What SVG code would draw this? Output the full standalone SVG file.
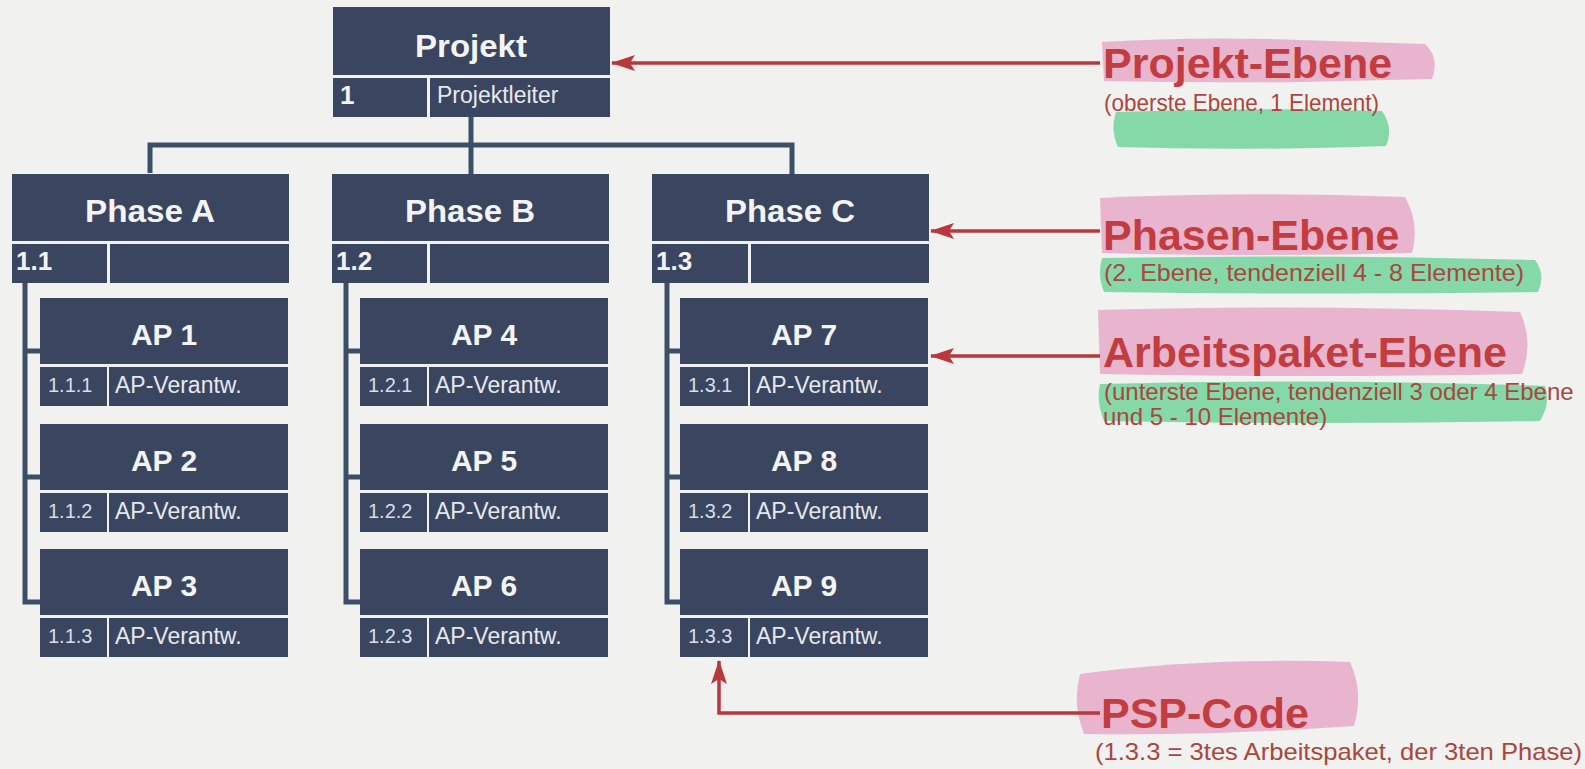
<svg xmlns="http://www.w3.org/2000/svg" width="1585" height="769" viewBox="0 0 1585 769">
<defs>
<style>
.bx{fill:#3a4560}
.hd{font-family:"Liberation Sans",Arial,sans-serif;font-weight:bold;fill:#f4f4f4;text-anchor:middle}
.ph{font-size:31px}
.ap{font-size:30px}
.pc{font-family:"Liberation Sans",Arial,sans-serif;font-weight:bold;fill:#f4f4f4;font-size:26px}
.sc{font-family:"Liberation Sans",Arial,sans-serif;fill:#d9dde6;font-size:20px}
.rs{font-family:"Liberation Sans",Arial,sans-serif;fill:#e6e8ee;font-size:23px}
.cn{fill:none;stroke:#3b5068;stroke-width:5}
.ar{fill:none;stroke:#b8383e;stroke-width:3.5}
.tt{font-family:"Liberation Sans",Arial,sans-serif;font-weight:bold;font-size:43px;fill:#c23d3f}
.st{font-family:"Liberation Sans",Arial,sans-serif;font-size:24px;fill:#a9463e}
.pk{fill:#e69cc0;opacity:0.72}
.gr{fill:#5ccf8a;opacity:0.72}
</style>
<marker id="ah" viewBox="0 0 24 16" refX="23" refY="8" markerWidth="24" markerHeight="16" markerUnits="userSpaceOnUse" orient="auto">
<path d="M0,0 L24,8 L0,16 L5,8 z" fill="#b8383e"/>
</marker>
</defs>
<rect x="0" y="0" width="1585" height="769" fill="#f1f1ef"/>

<g id="connectors">
<path class="cn" d="M150,173 V145 H792 V175"/>
<path class="cn" d="M471,117 V174"/>
<path class="cn" d="M25,283 V602 H40 M25,351 H40 M25,477 H40"/>
<path class="cn" d="M346,283 V602 H360 M346,351 H360 M346,477 H360"/>
<path class="cn" d="M667,283 V602 H680 M667,351 H680 M667,477 H680"/>
</g>

<g id="highlights">
<path class="pk" d="M1102,42 Q1200,36 1300,40 L1425,44 Q1440,58 1432,79 L1300,82 Q1200,83 1104,81 Z"/>
<path class="gr" d="M1116,112 Q1250,107 1382,111 Q1394,128 1386,146 Q1250,151 1118,147 Q1110,130 1116,112 Z"/>
<path class="pk" d="M1100,198 Q1250,191 1405,197 Q1420,224 1412,253 Q1250,257 1102,253 Z"/>
<path class="gr" d="M1102,258 Q1320,254 1535,260 Q1546,274 1538,292 Q1320,295 1104,292 Q1097,275 1102,258 Z"/>
<path class="pk" d="M1098,310 Q1300,304 1520,312 Q1534,342 1522,374 Q1300,378 1100,374 Z"/>
<path class="gr" d="M1100,384 Q1320,378 1545,386 Q1551,403 1540,421 Q1320,425 1104,421 Q1096,402 1100,384 Z"/>
<path class="pk" d="M1080,674 Q1200,657 1350,662 Q1364,692 1354,726 Q1210,736 1084,734 Q1072,704 1080,674 Z"/>
</g>

<g id="projekt">
<rect class="bx" x="333" y="7" width="277" height="68"/>
<rect class="bx" x="333" y="78" width="94" height="39"/>
<rect class="bx" x="430" y="78" width="180" height="39"/>
<text class="hd ph" x="471" y="57" textLength="112" lengthAdjust="spacingAndGlyphs">Projekt</text>
<text class="pc" x="340" y="104">1</text>
<text class="rs" x="437" y="103">Projektleiter</text>
</g>

<g id="phaseA">
<rect class="bx" x="12" y="174" width="277" height="67"/>
<rect class="bx" x="12" y="244" width="95" height="39"/>
<rect class="bx" x="110" y="244" width="179" height="39"/>
<text class="hd ph" x="150" y="222" textLength="130" lengthAdjust="spacingAndGlyphs">Phase A</text>
<text class="pc" x="16" y="270">1.1</text>
</g>
<g id="phaseB">
<rect class="bx" x="332" y="174" width="277" height="67"/>
<rect class="bx" x="332" y="244" width="95" height="39"/>
<rect class="bx" x="430" y="244" width="179" height="39"/>
<text class="hd ph" x="470" y="222" textLength="130" lengthAdjust="spacingAndGlyphs">Phase B</text>
<text class="pc" x="336" y="270">1.2</text>
</g>
<g id="phaseC">
<rect class="bx" x="652" y="174" width="277" height="67"/>
<rect class="bx" x="652" y="244" width="96" height="39"/>
<rect class="bx" x="751" y="244" width="178" height="39"/>
<text class="hd ph" x="790" y="222" textLength="130" lengthAdjust="spacingAndGlyphs">Phase C</text>
<text class="pc" x="656" y="270">1.3</text>
</g>

<g id="ap1">
<rect class="bx" x="40" y="298" width="248" height="66"/>
<rect class="bx" x="40" y="367" width="67" height="39"/>
<rect class="bx" x="109" y="367" width="179" height="39"/>
<text class="hd ap" x="164" y="345">AP 1</text>
<text class="sc" x="48" y="392">1.1.1</text>
<text class="rs" x="115" y="393">AP-Verantw.</text>
</g>
<g id="ap2">
<rect class="bx" x="40" y="424" width="248" height="66"/>
<rect class="bx" x="40" y="493" width="67" height="39"/>
<rect class="bx" x="109" y="493" width="179" height="39"/>
<text class="hd ap" x="164" y="471">AP 2</text>
<text class="sc" x="48" y="518">1.1.2</text>
<text class="rs" x="115" y="519">AP-Verantw.</text>
</g>
<g id="ap3">
<rect class="bx" x="40" y="549" width="248" height="66"/>
<rect class="bx" x="40" y="618" width="67" height="39"/>
<rect class="bx" x="109" y="618" width="179" height="39"/>
<text class="hd ap" x="164" y="596">AP 3</text>
<text class="sc" x="48" y="643">1.1.3</text>
<text class="rs" x="115" y="644">AP-Verantw.</text>
</g>

<g id="ap4">
<rect class="bx" x="360" y="298" width="248" height="66"/>
<rect class="bx" x="360" y="367" width="67" height="39"/>
<rect class="bx" x="429" y="367" width="179" height="39"/>
<text class="hd ap" x="484" y="345">AP 4</text>
<text class="sc" x="368" y="392">1.2.1</text>
<text class="rs" x="435" y="393">AP-Verantw.</text>
</g>
<g id="ap5">
<rect class="bx" x="360" y="424" width="248" height="66"/>
<rect class="bx" x="360" y="493" width="67" height="39"/>
<rect class="bx" x="429" y="493" width="179" height="39"/>
<text class="hd ap" x="484" y="471">AP 5</text>
<text class="sc" x="368" y="518">1.2.2</text>
<text class="rs" x="435" y="519">AP-Verantw.</text>
</g>
<g id="ap6">
<rect class="bx" x="360" y="549" width="248" height="66"/>
<rect class="bx" x="360" y="618" width="67" height="39"/>
<rect class="bx" x="429" y="618" width="179" height="39"/>
<text class="hd ap" x="484" y="596">AP 6</text>
<text class="sc" x="368" y="643">1.2.3</text>
<text class="rs" x="435" y="644">AP-Verantw.</text>
</g>

<g id="ap7">
<rect class="bx" x="680" y="298" width="248" height="66"/>
<rect class="bx" x="680" y="367" width="68" height="39"/>
<rect class="bx" x="750" y="367" width="178" height="39"/>
<text class="hd ap" x="804" y="345">AP 7</text>
<text class="sc" x="688" y="392">1.3.1</text>
<text class="rs" x="756" y="393">AP-Verantw.</text>
</g>
<g id="ap8">
<rect class="bx" x="680" y="424" width="248" height="66"/>
<rect class="bx" x="680" y="493" width="68" height="39"/>
<rect class="bx" x="750" y="493" width="178" height="39"/>
<text class="hd ap" x="804" y="471">AP 8</text>
<text class="sc" x="688" y="518">1.3.2</text>
<text class="rs" x="756" y="519">AP-Verantw.</text>
</g>
<g id="ap9">
<rect class="bx" x="680" y="549" width="248" height="66"/>
<rect class="bx" x="680" y="618" width="68" height="39"/>
<rect class="bx" x="750" y="618" width="178" height="39"/>
<text class="hd ap" x="804" y="596">AP 9</text>
<text class="sc" x="688" y="643">1.3.3</text>
<text class="rs" x="756" y="644">AP-Verantw.</text>
</g>

<g id="annotation-arrows">
<path class="ar" d="M1100,63 H612" marker-end="url(#ah)"/>
<path class="ar" d="M1100,231 H931" marker-end="url(#ah)"/>
<path class="ar" d="M1100,356 H931" marker-end="url(#ah)"/>
<path class="ar" d="M1100,713 H719 V661" marker-end="url(#ah)"/>
</g>

<g id="label-projekt">
<text class="tt" x="1103" y="78">Projekt-Ebene</text>
<text class="st" x="1104" y="111" textLength="275" lengthAdjust="spacingAndGlyphs">(oberste Ebene, 1 Element)</text>
</g>
<g id="label-phasen">
<text class="tt" x="1103" y="250">Phasen-Ebene</text>
<text class="st" x="1104" y="281" textLength="420" lengthAdjust="spacingAndGlyphs">(2. Ebene, tendenziell 4 - 8 Elemente)</text>
</g>
<g id="label-ap">
<text class="tt" x="1103" y="367">Arbeitspaket-Ebene</text>
<text class="st" x="1104" y="400">(unterste Ebene, tendenziell 3 oder 4 Ebene</text>
<text class="st" x="1103" y="425">und 5 - 10 Elemente)</text>
</g>
<g id="label-psp">
<text class="tt" x="1101" y="728">PSP-Code</text>
<text class="st" x="1095" y="760" textLength="487" lengthAdjust="spacingAndGlyphs">(1.3.3 = 3tes Arbeitspaket, der 3ten Phase)</text>
</g>
</svg>
